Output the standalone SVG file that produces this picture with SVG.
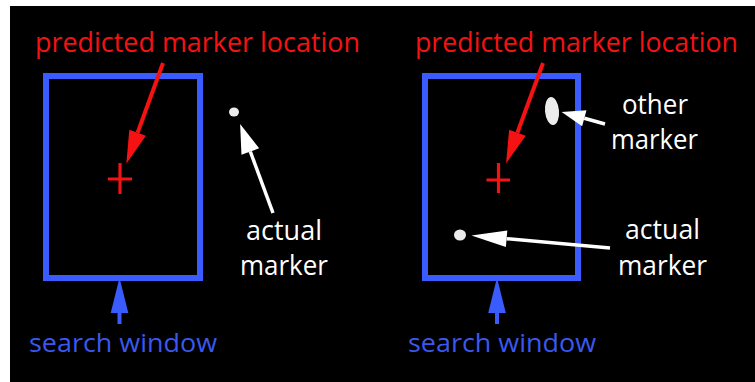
<svg xmlns="http://www.w3.org/2000/svg" width="755" height="382" viewBox="0 0 755 382">
  <style>
    .lbl { font-family: "Open Sans", "Liberation Sans", sans-serif; }
    .red { fill: #f51212; font-size: 27px; }
    .wht { fill: #ffffff; font-size: 26.5px; }
    .blu { fill: #3a58f0; font-size: 26px; }
    .win { fill: none; stroke: #3a5cff; stroke-width: 6; }
    .plus { stroke: #f51212; stroke-width: 3.2; fill: none; }
    .ar-red { stroke: #f51212; stroke-width: 4; fill: none; }
    .ar-wht { stroke: #ffffff; stroke-width: 3.5; fill: none; }
    .ar-blu { stroke: #3a5cff; stroke-width: 4; fill: none; }
    .dot { fill: #ececec; }
  </style>
  <defs>
    <marker id="mRed" markerUnits="userSpaceOnUse" markerWidth="40" markerHeight="40" viewBox="-2 -10 34 20" refX="0" refY="0" orient="auto">
      <path d="M0,-7.5 L28,0 L0,7.5 Z" fill="#f51212"/>
    </marker>
    <marker id="mWht" markerUnits="userSpaceOnUse" markerWidth="40" markerHeight="40" viewBox="-2 -10 34 20" refX="0" refY="0" orient="auto">
      <path d="M0,-8 L25,0 L0,8 Z" fill="#ffffff"/>
    </marker>
    <marker id="mWhtL" markerUnits="userSpaceOnUse" markerWidth="40" markerHeight="40" viewBox="-2 -10 34 20" refX="0" refY="0" orient="auto">
      <path d="M0,-7 L30,0 L0,7 Z" fill="#ffffff"/>
    </marker>
    <marker id="mWhtS" markerUnits="userSpaceOnUse" markerWidth="40" markerHeight="40" viewBox="-2 -10 34 20" refX="0" refY="0" orient="auto">
      <path d="M0,-7 L20,0 L0,7 Z" fill="#ffffff"/>
    </marker>
    <marker id="mBlu" markerUnits="userSpaceOnUse" markerWidth="40" markerHeight="40" viewBox="-2 -10 34 20" refX="0" refY="0" orient="auto">
      <path d="M0,-7.5 L30,0 L0,7.5 Z" fill="#3a5cff"/>
    </marker>
  </defs>

  <rect x="10" y="6" width="745" height="376" fill="#000000"/>

  <g id="left-window">
    <rect class="win" x="46" y="76" width="154" height="202"/>
    <path class="plus" d="M108,179 H132 M120,163 V194"/>
  </g>
  <g id="left-predicted-label">
    <text class="lbl red" x="35" y="52" textLength="325" lengthAdjust="spacingAndGlyphs">predicted marker location</text>
  </g>
  <g id="left-actual-marker">
    <ellipse class="dot" cx="234" cy="112" rx="5" ry="4.5"/>
    <text class="lbl wht" x="246" y="240" textLength="76" lengthAdjust="spacingAndGlyphs">actual</text>
    <text class="lbl wht" x="240" y="275" textLength="88" lengthAdjust="spacingAndGlyphs">marker</text>
  </g>
  <g id="left-search-label">
    <text class="lbl blu" x="29" y="352" textLength="188" lengthAdjust="spacingAndGlyphs">search window</text>
  </g>

  <g id="right-window">
    <rect class="win" x="425" y="76" width="153" height="202"/>
    <path class="plus" d="M486.5,180 H510 M498.5,163 V193"/>
  </g>
  <g id="right-predicted-label">
    <text class="lbl red" x="415" y="52" textLength="323" lengthAdjust="spacingAndGlyphs">predicted marker location</text>
  </g>
  <g id="right-other-marker">
    <ellipse class="dot" cx="552" cy="111" rx="7" ry="14" transform="rotate(-5 552 111)"/>
    <text class="lbl wht" x="622" y="114" textLength="66" lengthAdjust="spacingAndGlyphs">other</text>
    <text class="lbl wht" x="611" y="149" textLength="87" lengthAdjust="spacingAndGlyphs">marker</text>
  </g>
  <g id="right-actual-marker">
    <ellipse class="dot" cx="460" cy="235" rx="6" ry="5.5"/>
    <text class="lbl wht" x="625" y="239" textLength="75" lengthAdjust="spacingAndGlyphs">actual</text>
    <text class="lbl wht" x="618" y="275" textLength="89" lengthAdjust="spacingAndGlyphs">marker</text>
  </g>
  <g id="right-search-label">
    <text class="lbl blu" x="408" y="352" textLength="188" lengthAdjust="spacingAndGlyphs">search window</text>
  </g>

  <g id="connectors">
    <line class="ar-red" x1="163" y1="63" x2="137.6" y2="132.7" marker-end="url(#mRed)"/>
    <line class="ar-red" x1="543" y1="63" x2="517.4" y2="132.7" marker-end="url(#mRed)"/>
    <line class="ar-wht" x1="273" y1="213" x2="250.3" y2="151.5" marker-end="url(#mWht)"/>
    <line class="ar-wht" x1="605" y1="124" x2="584.3" y2="118.3" marker-end="url(#mWhtS)"/>
    <line class="ar-wht" x1="610" y1="248" x2="506.6" y2="238.7" marker-end="url(#mWhtL)"/>
    <line class="ar-blu" x1="119.5" y1="324" x2="119.5" y2="313" marker-end="url(#mBlu)"/>
    <line class="ar-blu" x1="497" y1="324" x2="497" y2="313" marker-end="url(#mBlu)"/>
  </g>
</svg>
